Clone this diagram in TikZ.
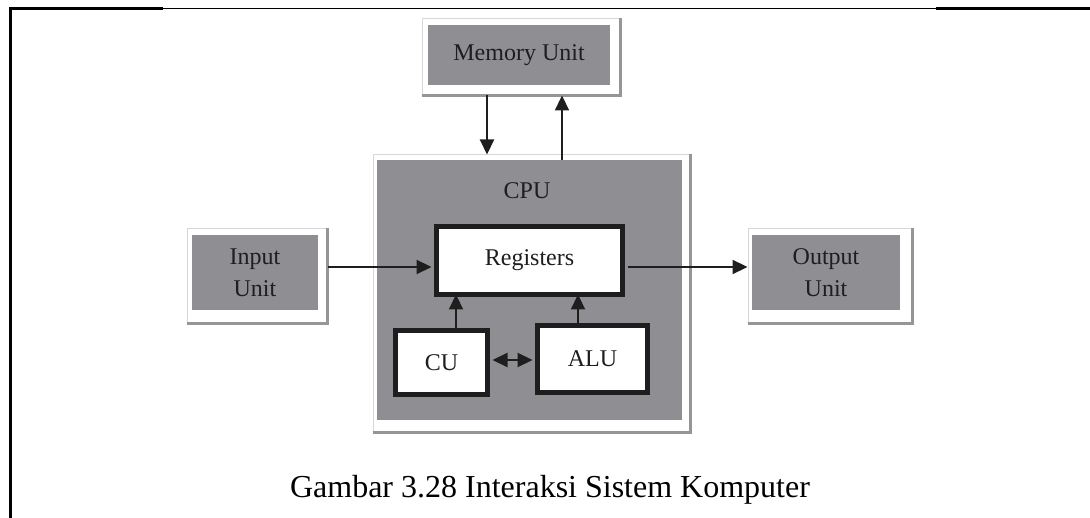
\documentclass[tikz,border=0pt]{standalone}
\usepackage{fontspec}
\setmainfont{Liberation Serif}
\usetikzlibrary{arrows.meta}
\definecolor{boxgray}{RGB}{143,142,147}
\definecolor{shadowgray}{RGB}{150,150,152}
\definecolor{faintgray}{RGB}{215,215,217}
\definecolor{inkc}{RGB}{30,30,30}
\tikzset{
  graybox/.style={rectangle, fill=boxgray, inner sep=0pt, text=inkc,
    font=\fontsize{24}{26}\selectfont, align=center},
  framebox/.style={rectangle, draw=faintgray, line width=1pt, fill=white, inner sep=0pt},
  shadowline/.style={draw=shadowgray, line width=2.5pt},
  whitebox/.style={rectangle, draw=inkc, line width=5pt, fill=white, inner sep=0pt,
    text=inkc, font=\fontsize{24}{26}\selectfont},
  tip/.tip={Triangle[length=15pt,width=14pt]},
  arr/.style={draw=inkc, line width=2.2pt, -tip},
  darr/.style={draw=inkc, line width=2.2pt, tip-tip},
  borderthick/.style={draw=black, line width=3pt},
  borderthin/.style={draw=black, line width=1.6pt},
}
\begin{document}
\begin{tikzpicture}[x=1pt,y=-1pt]
\useasboundingbox (0,0) rectangle (1090,518);
% page border
\draw[borderthin] (163,8.5) -- (936,8.5);
\draw[borderthick] (9,9) -- (163,9);
\draw[borderthick] (936,9) -- (1090,9);
\draw[borderthick] (10.5,7.5) -- (10.5,518);

% Memory unit
\node[framebox, minimum width=198pt, minimum height=76pt] (memfr) at (521,57) {};
\draw[shadowline] (memfr.south west) -- (memfr.south east) -- (memfr.north east);
\node[graybox, minimum width=182pt, minimum height=60pt] (mem) at (519,55) {Memory Unit};

% Input unit
\node[framebox, minimum width=140pt, minimum height=94pt] (infr) at (257,276) {};
\draw[shadowline] (infr.south west) -- (infr.south east) -- (infr.north east);
\node[graybox, minimum width=126pt, minimum height=75pt] (inp) at (255,272.5) {Input\\[6pt]Unit};

% Output unit
\node[framebox, minimum width=164pt, minimum height=94pt] (outfr) at (830,276) {};
\draw[shadowline] (outfr.south west) -- (outfr.south east) -- (outfr.north east);
\node[graybox, minimum width=148pt, minimum height=75pt] (outp) at (826,272.5) {Output\\[6pt]Unit};

% CPU
\node[framebox, minimum width=317pt, minimum height=277pt] (cpufr) at (531.5,293.5) {};
\draw[shadowline] (cpufr.south west) -- (cpufr.south east) -- (cpufr.north east);
\node[graybox, minimum width=305pt, minimum height=260pt] (cpu) at (529.5,290) {};
\node[text=inkc, font=\fontsize{24}{26}\selectfont] (cpulabel) at (527,191) {CPU};

% inner boxes
\node[whitebox, minimum width=186pt, minimum height=68pt] (reg) at (529.5,260.5) {Registers};
\node[whitebox, minimum width=92pt, minimum height=64pt] (cu) at (441.5,362.5) {CU};
\node[whitebox, minimum width=110pt, minimum height=67pt] (alu) at (592.5,359) {ALU};

% connectors
\coordinate (inrow) at ([yshift=-6.5pt]reg.west);
\draw[arr] (infr.east |- inrow) -- ([xshift=-2.5pt]inrow);
\coordinate (outrow) at ([yshift=-6.5pt]reg.east);
\draw[arr] ([xshift=2.5pt]outrow) -- (outfr.west |- outrow);
\coordinate (mdown) at (487,0);
\coordinate (mup) at (562,0);
\draw[arr] (memfr.south -| mdown) -- (cpufr.north -| mdown);
\draw[arr] (cpu.north -| mup) -- (memfr.south -| mup);
\coordinate (cux) at (456,0);
\coordinate (alux) at (578,0);
\draw[arr] ([yshift=-2.5pt]cu.north -| cux) -- ([yshift=2.5pt]reg.south -| cux);
\draw[arr] ([yshift=-2.5pt]alu.north -| alux) -- ([yshift=2.5pt]reg.south -| alux);
\coordinate (cuarow) at (0,360);
\draw[darr] ([xshift=2.5pt]cu.east |- cuarow) -- ([xshift=-2.5pt]alu.west |- cuarow);

% caption
\node[anchor=base, font=\fontsize{32}{36}\selectfont] (cap) at (550,497) {Gambar 3.28 Interaksi Sistem Komputer};
\end{tikzpicture}
\end{document}
